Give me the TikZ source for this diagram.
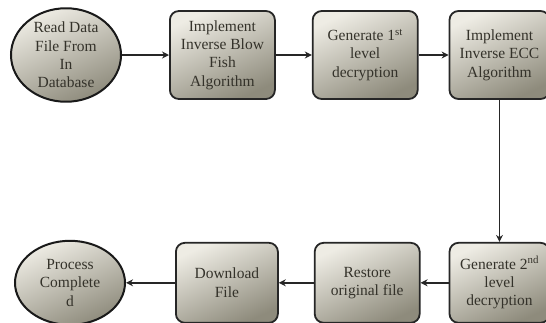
\documentclass[tikz,border=0pt]{standalone}
\usepackage{fontspec}
\setmainfont{Liberation Serif}
\usetikzlibrary{shapes.geometric,arrows.meta,positioning}
\definecolor{boxlight}{HTML}{EEECE4}
\definecolor{boxdark}{HTML}{8E8B7C}
\definecolor{boxtext}{HTML}{34322A}
\tikzset{
  sblock/.style = {rectangle, rounded corners=9pt, draw=black!85,
                   line width=1.8pt, top color=boxlight, bottom color=boxdark,
                   shading angle=25, align=center, text=boxtext,
                   minimum width=105pt, minimum height=88pt, inner sep=1pt,
                   font=\fontsize{15.5}{18.4}\selectfont},
  eblock/.style = {ellipse, draw=black!90, line width=2pt,
                   top color=boxlight, bottom color=boxdark, shading angle=25,
                   align=center, text=boxtext, minimum width=110pt,
                   minimum height=84pt, inner sep=0pt,
                   font=\fontsize{15.5}{18.4}\selectfont},
  arr/.style    = {-{Stealth[length=7pt,width=7pt]}, line width=1.7pt,
                   draw=black!85},
}

\begin{document}
\begin{tikzpicture}[x=1pt, y=1pt, node distance=30pt]
\useasboundingbox (0,0) rectangle (546,-322);

%% -- top row --------------------------------------------
\node[eblock] (read) at (66,-55) {Read Data\\File From\\In\\Database};
\node[sblock, right=47pt of read] (blow) {Implement\\Inverse Blow\\Fish\\Algorithm};
\node[sblock, right=36pt of blow] (gen1) {Generate 1\textsuperscript{st}\\level\\decryption};
\node[sblock, right=30pt of gen1, minimum width=100pt] (ecc) {Implement\\Inverse ECC\\Algorithm};

%% -- bottom row -----------------------------------------
\node[sblock, below=142pt of ecc, minimum width=100pt, minimum height=80pt]
  (gen2) {Generate 2\textsuperscript{nd}\\level\\decryption};
\node[sblock, left=28pt of gen2, minimum height=80pt] (restore) {Restore\\original file};
\node[sblock, left=35pt of restore, minimum width=102pt, minimum height=80pt]
  (download) {Download\\File};
\node[eblock, left=49pt of download] (done) {Process\\Complete\\d};

%% -- arrows ---------------------------------------------
\draw[arr] (read)     -- (blow);
\draw[arr] (blow)     -- (gen1);
\draw[arr] (gen1)     -- (ecc);
\draw[arr] (ecc)      -- (gen2);
\draw[arr] (gen2)     -- (restore);
\draw[arr] (restore)  -- (download);
\draw[arr] (download) -- (done);

\end{tikzpicture}
\end{document}
